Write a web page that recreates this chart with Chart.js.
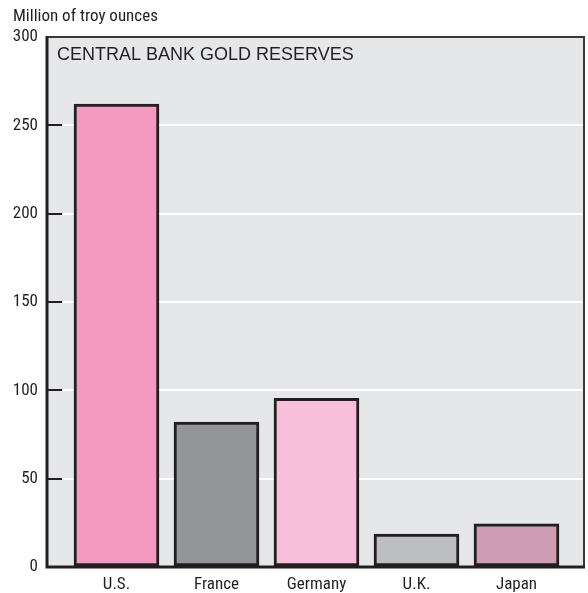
<!DOCTYPE html>
<html>
<head>
<meta charset="utf-8">
<script src="https://cdn.jsdelivr.net/npm/chart.js@4/dist/chart.umd.min.js"></script>
<style>
  html, body { margin: 0; padding: 0; background: #ffffff; }
  canvas { display: block; }
</style>
</head>
<body>
<canvas id="goldChart" width="588" height="593"></canvas>
<script>
// Central bank gold reserves, million troy ounces
const countries = ['U.S.', 'France', 'Germany', 'U.K.', 'Japan'];
const reserves = [262, 82, 95.5, 18.7, 24.5];
const barColors = ['#f49ac1', '#939598', '#f7bfd9', '#bcbec0', '#cc9db3'];
const yTicks = [0, 50, 100, 150, 200, 250, 300];

const narrowFont = "'Liberation Sans Narrow', 'Roboto Condensed', 'DejaVu Sans Condensed', sans-serif";
const ink = '#231f20';

// Frame, inner tick marks and text labels
const decorations = {
    id: 'decorations',
    afterDatasetsDraw(chart) {
        const { ctx, chartArea: a, scales: { y } } = chart;
        ctx.save();

        // small ticks pointing into the plot
        ctx.strokeStyle = ink;
        ctx.lineWidth = 2;
        yTicks.forEach(v => {
            const py = Math.round(y.getPixelForValue(v));
            ctx.beginPath();
            ctx.moveTo(a.left, py);
            ctx.lineTo(a.left + 15, py);
            ctx.stroke();
        });

        // top and right edges
        ctx.strokeStyle = '#3a3839';
        ctx.lineWidth = 2;
        ctx.beginPath();
        ctx.moveTo(a.left, a.top);
        ctx.lineTo(a.right, a.top);
        ctx.lineTo(a.right, a.bottom);
        ctx.stroke();

        // left axis and baseline
        ctx.strokeStyle = ink;
        ctx.lineWidth = 3;
        ctx.beginPath();
        ctx.moveTo(a.left, a.top - 1);
        ctx.lineTo(a.left, a.bottom);
        ctx.lineTo(a.right + 1, a.bottom);
        ctx.stroke();

        // title inside the plot
        ctx.fillStyle = ink;
        ctx.textBaseline = 'middle';
        ctx.textAlign = 'left';
        ctx.font = "18px 'Liberation Sans', Arial, sans-serif";
        ctx.fillText('CENTRAL BANK GOLD RESERVES', a.left + 10, a.top + 18);

        // unit label above the axis
        ctx.font = '17px ' + narrowFont;
        ctx.fillText('Million of troy ounces', 13, 17);
        ctx.restore();
    }
};

// plot background
const plotBackground = {
    id: 'plotBackground',
    beforeDraw(chart) {
        const { ctx, chartArea: a } = chart;
        ctx.save();
        ctx.fillStyle = '#e6e7e8';
        ctx.fillRect(a.left, a.top, a.right - a.left, a.bottom - a.top);
        ctx.restore();
    }
};

new Chart(document.getElementById('goldChart'), {
    type: 'bar',
    data: {
        datasets: [{
            data: reserves.map((v, i) => ({ x: i, y: v })),
            backgroundColor: barColors,
            borderColor: ink,
            borderWidth: 3,
            borderSkipped: false,
            barThickness: 85
        }]
    },
    options: {
        responsive: false,
        animation: false,
        layout: { padding: { top: 37, right: 4, left: 0, bottom: 0 } },
        plugins: {
            legend: { display: false },
            tooltip: { enabled: false }
        },
        scales: {
            x: {
                type: 'linear',
                offset: false,
                min: -0.695,
                max: 4.675,
                afterBuildTicks: axis => {
                    axis.ticks = countries.map((c, i) => ({ value: i }));
                },
                afterFit: axis => { axis.height = 26; },
                grid: { display: false, drawTicks: false },
                border: { display: false },
                ticks: {
                    color: ink,
                    padding: 8,
                    maxRotation: 0,
                    autoSkip: false,
                    font: { family: narrowFont, size: 17 },
                    callback: v => countries[v] ?? ''
                }
            },
            y: {
                min: 0,
                max: 300,
                afterBuildTicks: axis => {
                    axis.ticks = yTicks.map(v => ({ value: v }));
                },
                afterFit: axis => { axis.width = 47; },
                grid: {
                    color: v => (v.tick.value === 0 || v.tick.value === 300) ? 'rgba(0,0,0,0)' : '#ffffff',
                    lineWidth: 2,
                    drawTicks: false
                },
                border: { display: false },
                ticks: {
                    color: ink,
                    padding: 9,
                    font: { family: narrowFont, size: 17 }
                }
            }
        }
    },
    plugins: [plotBackground, decorations]
});
</script>
</body>
</html>
